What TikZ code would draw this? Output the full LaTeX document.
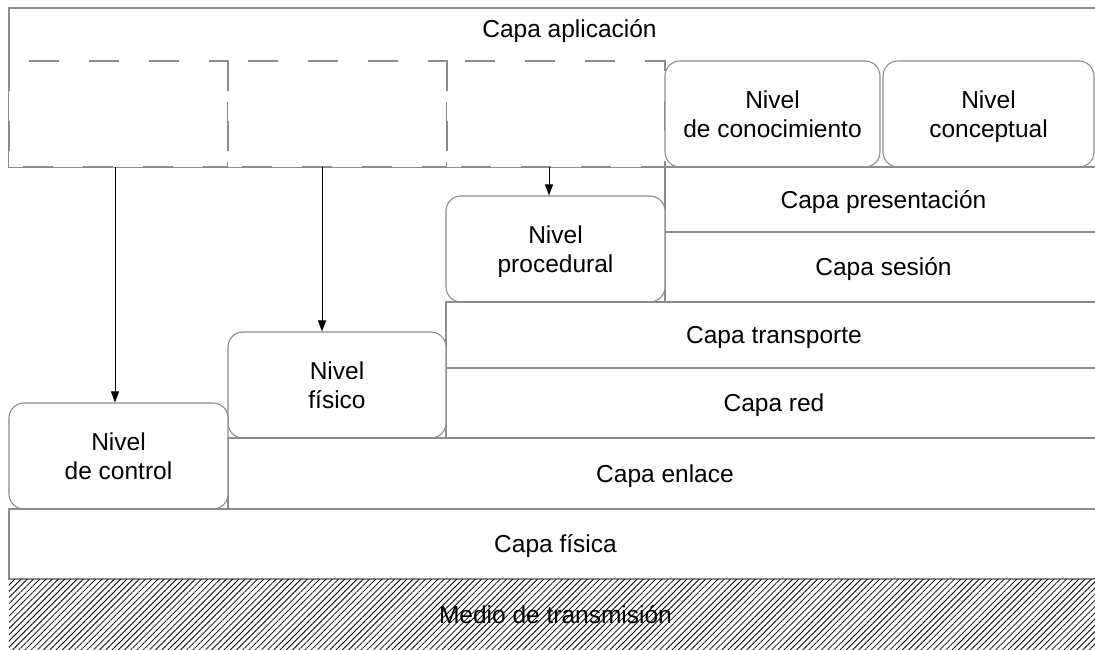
\documentclass[tikz,border=0pt]{standalone}
\usepackage{fontspec}
\setmainfont{Liberation Sans}
\usetikzlibrary{arrows.meta,patterns.meta}
\definecolor{edge}{HTML}{8C8C8C}
\tikzset{
  txtfont/.style={font=\fontsize{24.5}{29}\selectfont},
  layer/.style={draw=edge,line width=1.1pt,fill=white,rectangle,inner sep=0pt,txtfont,align=center,text depth=0pt},
  one/.style={text height=17.5pt},
  lvl/.style={layer,rounded corners=15pt},
  ghost/.style={draw=edge,line width=1.1pt,fill=white,dash pattern=on 30pt off 30pt},
  edgeline/.style={draw=edge,line width=1.1pt},
  hatched/.style={draw=none,rectangle,inner sep=0pt,txtfont,align=center,text height=17.5pt,text depth=0pt,
    pattern={Lines[angle=45,distance=4.4pt,line width=0.8pt]},pattern color=black},
  arr/.style={draw=black,line width=0.9pt,-{Triangle[length=11pt,width=8pt]}},
}
\begin{document}
\begin{tikzpicture}[x=1pt,y=1pt]
\useasboundingbox (0,0) rectangle (1095,-650);
\begin{scope}
\clip (0,0) rectangle (1095,-650);
% application layer
\node[layer,one,minimum width=1121pt,minimum height=159pt,
  label={[anchor=center,yshift=-21.25pt,txtfont,text height=17.5pt,text depth=0pt,inner sep=0pt]north:Capa aplicación}] (app) at (569.5,-87.5) {};
% phantom dashed boxes
\draw[ghost] (9,-61) rectangle (228,-167);
\draw[ghost] (228,-61) rectangle (447,-167);
\draw[ghost] (447,-61) rectangle (665,-167);
\draw[edgeline] (app.south west) -- (app.south east);
% upper levels
\node[lvl,minimum width=215pt,minimum height=106pt] (know) at (772.5,-114) {Nivel\\de conocimiento};
\node[lvl,minimum width=211pt,minimum height=106pt] (concept) at (988.5,-114) {Nivel\\conceptual};
% layers (their right ends lie beyond the picture edge)
\node[layer,one,minimum width=465pt,minimum height=65pt] (pres) at (897.5,-199.5) {\makebox[437pt]{Capa presentación}\hspace*{28pt}};
\node[layer,one,minimum width=465pt,minimum height=70pt] (ses) at (897.5,-267) {\makebox[437pt]{Capa sesión}\hspace*{28pt}};
\node[lvl,minimum width=219pt,minimum height=106pt] (proc) at (555.5,-249) {Nivel\\procedural};
\node[layer,one,minimum width=684pt,minimum height=66pt] (trans) at (788,-335) {\makebox[656pt]{Capa transporte}\hspace*{28pt}};
\node[layer,one,minimum width=684pt,minimum height=70pt] (red) at (788,-403) {\makebox[656pt]{Capa red}\hspace*{28pt}};
\node[lvl,minimum width=218pt,minimum height=106pt] (fis) at (337,-385) {Nivel\\físico};
\node[layer,one,minimum width=902pt,minimum height=71pt] (enl) at (679,-473.5) {\makebox[874pt]{Capa enlace}\hspace*{28pt}};
\node[lvl,minimum width=219pt,minimum height=106pt] (ctrl) at (118.5,-456) {Nivel\\de control};
\node[layer,one,minimum width=1121pt,minimum height=70pt] (fisica) at (569.5,-544) {\makebox[1093pt]{Capa física}\hspace*{28pt}};
\node[hatched,minimum width=1121pt,minimum height=71pt] (medio) at (569.5,-614.5) {\makebox[1093pt]{Medio de transmisión}\hspace*{28pt}};
% arrows
\coordinate (a1) at (115,-167);
\coordinate (a2) at (322,-167);
\coordinate (a3) at (549,-167);
\draw[arr] (a1) -- (a1 |- ctrl.north);
\draw[arr] (a2) -- (a2 |- fis.north);
\draw[arr] (a3) -- (a3 |- proc.north);
\end{scope}
\end{tikzpicture}
\end{document}
